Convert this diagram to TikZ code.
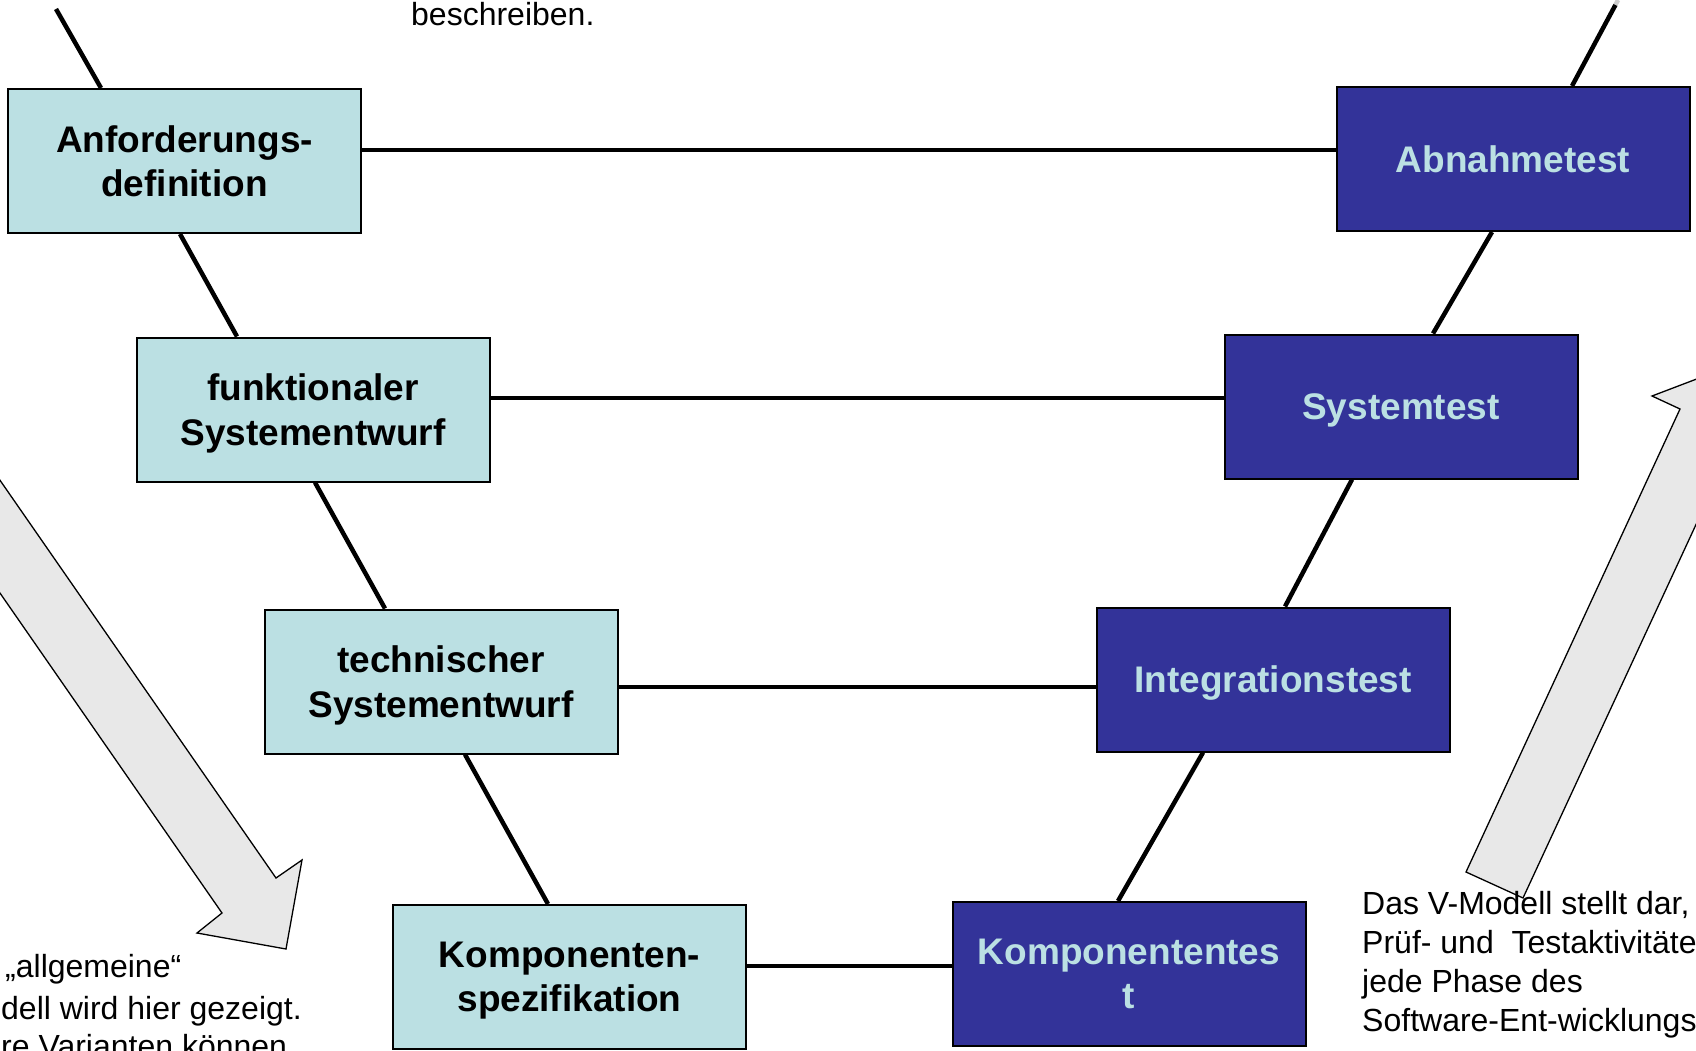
\documentclass[tikz,border=0pt]{standalone}
\usepackage{fontspec}
\setmainfont{Liberation Sans}
\definecolor{specfill}{HTML}{BBE0E3}
\definecolor{testfill}{HTML}{333399}
\definecolor{testtext}{HTML}{BBE0E3}
\definecolor{arrowfill}{HTML}{E8E8E8}
\tikzset{
  specbox/.style={draw=black, line width=2pt, fill=specfill, minimum width=353pt,
    minimum height=144pt, inner sep=0pt, align=center, text depth=0pt,
    font=\fontsize{37}{44.4}\selectfont\bfseries},
  testbox/.style={specbox, fill=testfill, text=testtext},
  vline/.style={line width=4.5pt, draw=black},
  note/.style={anchor=base west, inner sep=0pt, font=\fontsize{32}{38.4}\selectfont},
  bigarrow/.style={fill=arrowfill, draw=black, line width=1.3pt, line join=miter}
}
\begin{document}
\begin{tikzpicture}[x=1pt, y=-1pt]
\useasboundingbox (0,0) rectangle (1696,1051);
\clip (0,0) rectangle (1696,1051);

% broad grey arrows: down the left branch, up the right branch
\draw[bigarrow] (-123,303) -- (276,878) -- (302,860) -- (286,949) -- (197,933)
  -- (222,913) -- (-177,338) -- cycle;
\draw[bigarrow] (1466,872) -- (1680,409) -- (1652,396) -- (1736,364) -- (1765,449)
  -- (1737,436) -- (1523,898) -- cycle;

% specification phases
\node[specbox] (A1) at (184.5,161) {Anforderungs-\\definition};
\node[specbox] (A2) at (313,409.5) {funktionaler\\Systementwurf};
\node[specbox] (A3) at (441,681.5) {technischer\\Systementwurf};
\node[specbox] (A4) at (569.5,977) {Komponenten-\\spezifikation};

% test phases
\node[testbox] (T1) at (1513,159) {Abnahmetest};
\node[testbox] (T2) at (1401,406.5) {Systemtest};
\node[testbox] (T3) at (1273,679.5) {Integrationstest};
\node[testbox] (T4) at (1129,974) {Komponententes\\t};

% left branch of the V
\coordinate (vtopL) at (56,9);
\draw[vline] (vtopL) -- ([xshift=-83.5pt]A1.north);
\draw[vline] ([xshift=-4.5pt]A1.south) -- ([xshift=-76pt]A2.north);
\draw[vline] ([xshift=2pt]A2.south) -- ([xshift=-56pt]A3.north);
\draw[vline] ([xshift=24pt]A3.south) -- ([xshift=-21.5pt]A4.north);

% right branch of the V
\coordinate (vtopR) at (1615.4,5);
\coordinate (vendR) at (1618,0);
\draw[line width=4.5pt, draw=black!20] (vendR) -- (vtopR);
\draw[vline] (vtopR) -- ([xshift=59pt]T1.north);
\draw[vline] ([xshift=-21pt]T1.south) -- ([xshift=32pt]T2.north);
\draw[vline] ([xshift=-49pt]T2.south) -- ([xshift=12pt]T3.north);
\draw[vline] ([xshift=-70pt]T3.south) -- ([xshift=-11pt]T4.north);

% horizontal links between matching phases
\coordinate (h1) at ([yshift=11pt]A1.east);
\draw[vline] (h1) -- (h1 -| T1.west);
\coordinate (h2) at ([yshift=11.5pt]A2.east);
\draw[vline] (h2) -- (h2 -| T2.west);
\coordinate (h3) at ([yshift=-5.5pt]A3.east);
\draw[vline] (h3) -- (h3 -| T3.west);
\coordinate (h4) at ([yshift=11pt]A4.east);
\draw[vline] (h4) -- (h4 -| T4.west);

% running text
\node[note] (top) at (411,26) {beschreiben.};
\node[note] (l1) at (5,977) {„allgemeine“};
\node[note] (l2) at (1,1019) {dell wird hier gezeigt.};
\node[note] (l3) at (1,1057) {re Varianten können};
\node[note] (r1) at (1362,914) {Das V-Modell stellt dar,};
\node[note] (r2) at (1362,953) {Prüf- und\ \ Testaktivitäte};
\node[note] (r3) at (1362,992) {jede Phase des};
\node[note] (r4) at (1362,1031) {Software-Ent-wicklungs};
\end{tikzpicture}
\end{document}
